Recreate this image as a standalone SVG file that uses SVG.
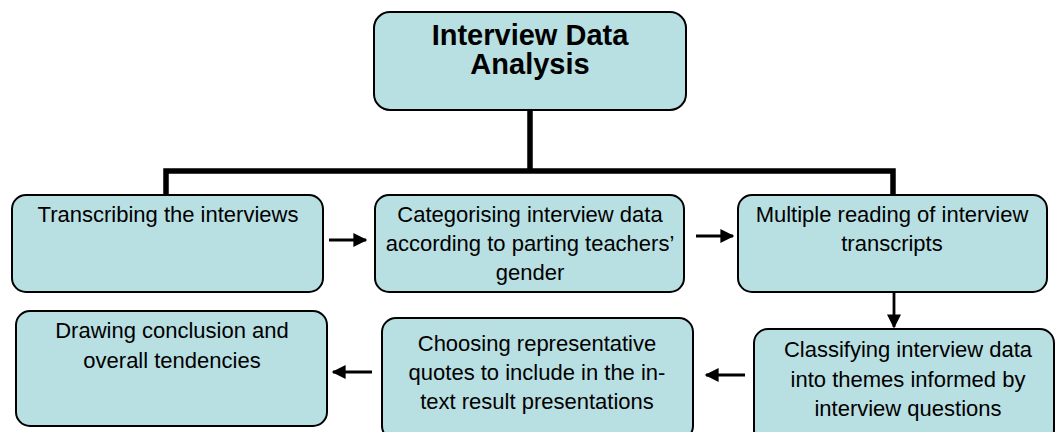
<svg xmlns="http://www.w3.org/2000/svg" width="1055" height="432" viewBox="0 0 1055 432">
<defs>
<style>
.box{fill:#B8DFE2;stroke:#000;stroke-width:2}
.t{font-family:"Liberation Sans",Arial,sans-serif;font-size:22px;fill:#000;text-anchor:middle}
.title{font-family:"Liberation Sans",Arial,sans-serif;font-size:29px;font-weight:bold;fill:#000;text-anchor:middle}
.tree{fill:none;stroke:#000;stroke-width:5.5}
.arr{fill:none;stroke:#000;stroke-width:2.8;marker-end:url(#ah)}
</style>
<marker id="ah" viewBox="0 0 10 10" refX="9" refY="5" markerWidth="5.3" markerHeight="5" markerUnits="strokeWidth" orient="auto">
<path d="M0,0 L10,5 L0,10 Z" fill="#000"/>
</marker>
</defs>
<g id="connectors">
<path class="tree" d="M530,110 V171 M166,195 V171 H893 V195"/>
<line class="arr" x1="329" y1="240" x2="366" y2="240"/>
<line class="arr" x1="696" y1="236" x2="733" y2="236"/>
<line class="arr" x1="894" y1="292" x2="894" y2="327"/>
<line class="arr" x1="745" y1="375" x2="706" y2="375"/>
<line class="arr" x1="372" y1="372" x2="333" y2="372"/>
</g>
<g id="root">
<rect class="box" x="374" y="12" width="312" height="98" rx="16"/>
<text class="title" x="530" y="45">Interview Data</text>
<text class="title" x="530" y="74">Analysis</text>
</g>
<g id="transcribing">
<rect class="box" x="12" y="195" width="311" height="97" rx="14"/>
<text class="t" x="168" y="222">Transcribing the interviews</text>
</g>
<g id="categorising">
<rect class="box" x="375" y="195" width="309" height="97" rx="14"/>
<text class="t" x="530" y="222">Categorising interview data</text>
<text class="t" x="530" y="251">according to parting teachers’</text>
<text class="t" x="530" y="280">gender</text>
</g>
<g id="multiple">
<rect class="box" x="738" y="195" width="309" height="97" rx="14"/>
<text class="t" x="892" y="222">Multiple reading of interview</text>
<text class="t" x="892" y="251">transcripts</text>
</g>
<g id="classifying">
<rect class="box" x="754" y="329" width="300" height="115" rx="14"/>
<text class="t" x="908" y="357">Classifying interview data</text>
<text class="t" x="908" y="386.5">into themes informed by</text>
<text class="t" x="908" y="416">interview questions</text>
</g>
<g id="choosing">
<rect class="box" x="382" y="318" width="311" height="122" rx="14"/>
<text class="t" x="537" y="351">Choosing representative</text>
<text class="t" x="537" y="380">quotes to include in the in-</text>
<text class="t" x="537" y="409">text result presentations</text>
</g>
<g id="drawing">
<rect class="box" x="16" y="311" width="311" height="115" rx="14"/>
<text class="t" x="172" y="338">Drawing conclusion and</text>
<text class="t" x="172" y="368">overall tendencies</text>
</g>
</svg>
